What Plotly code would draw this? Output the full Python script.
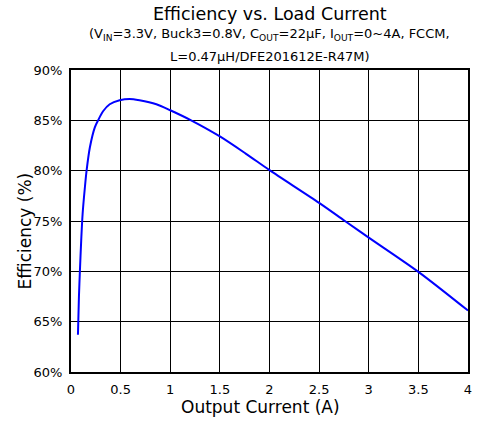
import plotly.graph_objects as go

# Data
current_a = [0.07, 0.08, 0.09, 0.103, 0.117, 0.14, 0.157, 0.19, 0.24, 0.273, 0.323,
             0.39, 0.49, 0.59, 0.69, 0.86, 1.0, 1.21, 1.5, 1.76, 2.0, 2.5, 2.76, 3.0, 3.5, 4.0]
efficiency_pct = [63.7, 67.5, 70.1, 73.1, 75.7, 78.35, 80.0, 82.3, 84.3, 85.0, 85.9,
                  86.6, 87.0, 87.13, 87.0, 86.6, 86.0, 85.0, 83.4, 81.7, 80.05, 76.8, 75.0, 73.35, 69.95, 66.1]

x_ticks = [0, 0.5, 1, 1.5, 2, 2.5, 3, 3.5, 4]
x_tick_labels = ["0", "0.5", "1", "1.5", "2", "2.5", "3", "3.5", "4"]
y_ticks = [60, 65, 70, 75, 80, 85, 90]
y_tick_labels = ["60%", "65%", "70%", "75%", "80%", "85%", "90%"]

title_text = "Efficiency vs. Load Current"
subtitle_1 = "(V<sub>IN</sub>=3.3V, Buck3=0.8V, C<sub>OUT</sub>=22µF, I<sub>OUT</sub>=0~4A, FCCM,"
subtitle_2 = "L=0.47µH/DFE201612E-R47M)"
x_title = "Output Current (A)"
y_title = "Efficiency (%)"

FONT = "DejaVu Sans, Liberation Sans, Arial"

fig = go.Figure()
fig.add_trace(go.Scatter(
    x=current_a, y=efficiency_pct, mode="lines",
    line=dict(color="#0000FF", width=2, shape="spline", smoothing=0.8),
    showlegend=False, hoverinfo="skip",
))

L, R, T, B = 71, 10, 70, 54
W, H = 482, 426
plot_h = H - T - B
plot_w = W - L - R

def py(pix):
    return (H - B - pix) / plot_h

def px(pix):
    return (pix - L) / plot_w

fig.update_layout(
    width=W, height=H,
    margin=dict(l=L, r=R, t=T, b=B, pad=0),
    paper_bgcolor="white", plot_bgcolor="white",
    font=dict(family=FONT, color="#000000", size=13),
    xaxis=dict(
        range=[0, 4], tickvals=x_ticks, ticktext=x_tick_labels,
        showgrid=True, gridcolor="#000000", gridwidth=1,
        showline=True, linecolor="#000000", linewidth=2, mirror=True,
        zeroline=False, ticks="outside", ticklen=4, tickcolor="rgba(0,0,0,0)",
        tickfont=dict(size=13, family=FONT),
    ),
    yaxis=dict(
        range=[60, 90], tickvals=y_ticks, ticktext=y_tick_labels,
        showgrid=True, gridcolor="#000000", gridwidth=1,
        showline=True, linecolor="#000000", linewidth=2, mirror=True,
        zeroline=False, ticks="outside", ticklen=4, tickcolor="rgba(0,0,0,0)",
        tickfont=dict(size=13, family=FONT),
    ),
    annotations=[
        dict(text=title_text, x=0.5, y=py(14), xref="paper", yref="paper",
             showarrow=False, xanchor="center", yanchor="middle",
             font=dict(size=17.5, family=FONT)),
        dict(text=subtitle_1, x=0.5, y=py(35), xref="paper", yref="paper",
             showarrow=False, xanchor="center", yanchor="middle",
             font=dict(size=13, family=FONT)),
        dict(text=subtitle_2, x=0.5, y=py(57), xref="paper", yref="paper",
             showarrow=False, xanchor="center", yanchor="middle",
             font=dict(size=13, family=FONT)),
        dict(text=x_title, x=px(262), y=py(407), xref="paper", yref="paper",
             showarrow=False, xanchor="center", yanchor="middle",
             font=dict(size=17, family=FONT)),
        dict(text=y_title, x=px(25), y=py(231), xref="paper", yref="paper",
             showarrow=False, xanchor="center", yanchor="middle", textangle=-90,
             font=dict(size=17, family=FONT)),
    ],
)

fig.write_html("out.html")
